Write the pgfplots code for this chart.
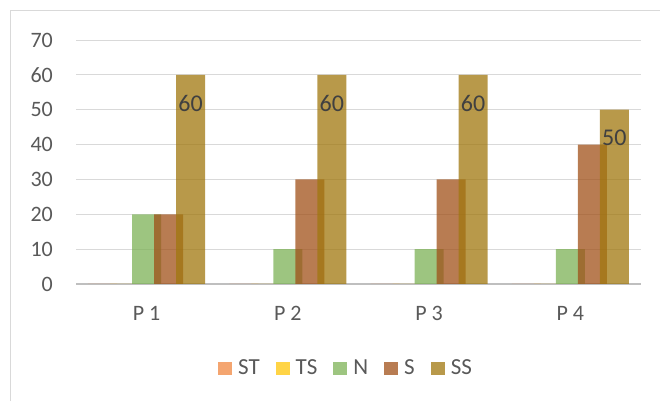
\documentclass[border=0pt]{standalone}
\usepackage{pgfplots}
\pgfplotsset{compat=1.18}
\usepackage{fontspec}
\setmainfont{Carlito}
\definecolor{cST}{RGB}{240,135,64}
\definecolor{cTS}{RGB}{255,198,8}
\definecolor{cN}{RGB}{124,178,86}
\definecolor{cS}{RGB}{160,80,24}
\definecolor{cSS}{RGB}{160,119,14}
\definecolor{tickgray}{RGB}{89,89,89}
\definecolor{labgray}{RGB}{64,64,64}
\definecolor{gridgray}{RGB}{217,217,217}
\definecolor{axgray}{RGB}{191,191,191}
\begin{document}
\begin{tikzpicture}
\useasboundingbox (0,0) rectangle (660pt,401pt);
\draw[gridgray, line width=1pt] (10pt,0pt) -- (10pt,390pt) -- (660pt,390pt);
\begin{axis}[
  at={(76pt,117pt)}, anchor=south west,
  width=565pt, height=244pt, scale only axis,
  ymin=0, ymax=70, ytick={0,10,...,70},
  xmin=-0.5, xmax=3.5, xtick={0,1,2,3},
  xticklabels={P 1,P 2,P 3,P 4},
  axis x line*=bottom, axis y line*=left,
  y axis line style={draw=none},
  x axis line style={draw=axgray, line width=1.8pt},
  major tick length=0pt,
  ymajorgrids, grid style={gridgray, line width=0.9pt},
  tick label style={font=\fontsize{22}{24}\selectfont, text=tickgray},
  yticklabel style={inner sep=0pt, anchor=east, xshift=-23pt},
  xticklabel style={inner sep=0pt, anchor=north, yshift=-22pt},
  /pgf/number format/assume math mode=true,
  legend style={at={(269pt,-84pt)}, anchor=center, draw=none, fill=none,
    legend columns=5, font=\fontsize{23}{25}\selectfont, text=tickgray,
    nodes={inner sep=0pt},
    /tikz/every odd column/.append style={column sep=6pt},
    /tikz/every even column/.append style={column sep=16pt}},
  legend image code/.code={\fill[#1,draw=none] (0pt,-6.5pt) rectangle (14pt,6.5pt);},
  every axis plot/.append style={ybar, bar width=29pt, draw=none, fill opacity=0.75},
  clip=false,
]
\addplot[fill=cST, bar shift=-44pt] coordinates {(0,0) (1,0) (2,0) (3,0)};
\addplot[fill=cTS, bar shift=-22pt] coordinates {(0,0) (1,0) (2,0) (3,0)};
\addplot[fill=cN, bar shift=0pt] coordinates {(0,20) (1,10) (2,10) (3,10)};
\addplot[fill=cS, bar shift=22pt] coordinates {(0,20) (1,30) (2,30) (3,40)};
\addplot[fill=cSS, bar shift=44pt, nodes near coords,
  every node near coord/.append style={anchor=north, xshift=44pt, yshift=-20pt, inner sep=0pt,
    fill opacity=1, text opacity=1, text=labgray, font=\fontsize{24}{26}\selectfont}]
  coordinates {(0,60) (1,60) (2,60) (3,50)};
\legend{ST,TS,N,S,SS}
\end{axis}
\end{tikzpicture}
\end{document}
